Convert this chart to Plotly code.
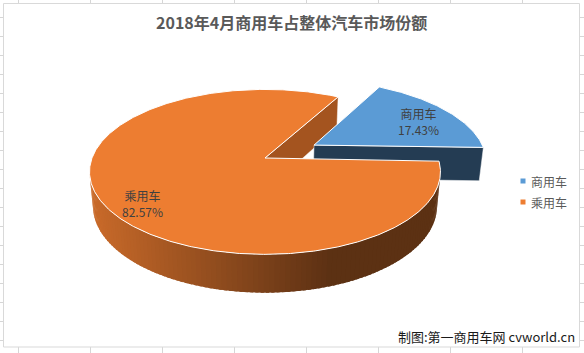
import numpy as np
import plotly.graph_objects as go

# ---------------- data ----------------
categories = ['商用车', '乘用车']
shares = [17.43, 82.57]
share_labels = ['17.43%', '82.57%']
slice_colors = ['#5B9BD5', '#ED7D31']
cut_colors = ['#243C53', '#A4541F']
title_text = '2018年4月商用车占整体汽车市场份额'
source_text = '制图:第一商用车网 cvworld.cn'

# ---------------- pseudo-3D pie geometry (style) ----------------
W, H_PX = 584, 353
CX, CY = 265.0, 158.0      # screen position of pie centre
R = 173.0                  # pie radius
TILT = np.radians(27.6)    # camera elevation
DIST = 912.0               # perspective distance
DEPTH = 39.0               # pie thickness
FIRST_ANGLE = 29.0         # first slice start angle (clockwise from back)
EXPLODE = [58.0, 0.0]
LABEL_R = 0.78
LABEL_SHIFT = [(0, -4), (3, -12)]
FONT = 'Microsoft YaHei, Noto Sans CJK SC, Noto Sans, sans-serif'

sa, ca = np.sin(TILT), np.cos(TILT)


def project(X, Z, h):
    X = np.asarray(X, float); Z = np.asarray(Z, float); h = np.asarray(h, float)
    yc = h * ca + Z * sa
    dp = Z * ca - h * sa
    f = DIST / (DIST + dp)
    return CX + X * f, CY - yc * f


def depth(X, Z, h):
    return Z * ca - h * sa


def facing(nx, nz, px, pz):
    return nx * (0 - px) + nz * (-DIST * ca - pz) > 0


def hex2rgb(c):
    c = c.lstrip('#')
    return tuple(int(c[i:i + 2], 16) for i in (0, 2, 4))


def shade(c, f):
    r, g, b = hex2rgb(c)
    return 'rgb(%d,%d,%d)' % (round(r * f), round(g * f), round(b * f))


cut_faces = []
slices = []
total = sum(shares)
start = FIRST_ANGLE
for i, v in enumerate(shares):
    span = 360.0 * v / total
    a0, a1 = start, start + span
    start = a1
    mid = np.radians((a0 + a1) / 2)
    ox, oz = EXPLODE[i] * np.sin(mid), EXPLODE[i] * np.cos(mid)

    # top face
    th = np.radians(np.linspace(a0, a1, max(10, int(span * 2))))
    X = np.concatenate([[ox], ox + R * np.sin(th), [ox]])
    Z = np.concatenate([[oz], oz + R * np.cos(th), [oz]])
    tx, ty = project(X, Z, np.zeros_like(X))
    half = np.radians(span / 2)
    cr = 2 / 3 * R * np.sin(half) / half
    top_depth = depth(ox + cr * np.sin(mid), oz + cr * np.cos(mid), 0.0)

    # cut faces
    for ang, sgn in ((a0, -1), (a1, 1)):
        ar = np.radians(ang)
        nx, nz = sgn * np.cos(ar), -sgn * np.sin(ar)
        px, pz = ox + R / 2 * np.sin(ar), oz + R / 2 * np.cos(ar)
        if facing(nx, nz, px, pz):
            Xc = [ox, ox + R * np.sin(ar), ox + R * np.sin(ar), ox, ox]
            Zc = [oz, oz + R * np.cos(ar), oz + R * np.cos(ar), oz, oz]
            hc = [0, 0, -DEPTH, -DEPTH, 0]
            cx_, cy_ = project(Xc, Zc, hc)
            cut_faces.append((depth(px, pz, -DEPTH / 2), cx_, cy_, cut_colors[i]))

    # side strips (slightly overlapping to avoid seams)
    strips = []
    nseg = max(4, int(span / 1.5))
    edges = np.linspace(a0, a1, nseg + 1)
    step = edges[1] - edges[0]
    for k in range(nseg):
        t0, t1 = edges[k], edges[k + 1]
        tm = np.radians((t0 + t1) / 2)
        px, pz = ox + R * np.sin(tm), oz + R * np.cos(tm)
        if not facing(np.sin(tm), np.cos(tm), px, pz):
            continue
        t1e = min(t1 + 0.6 * step, a1)
        tt = np.radians(np.linspace(t0, t1e, 5))
        Xs = np.concatenate([ox + R * np.sin(tt), ox + R * np.sin(tt[::-1])])
        Zs = np.concatenate([oz + R * np.cos(tt), oz + R * np.cos(tt[::-1])])
        hs = np.concatenate([np.zeros(5), -DEPTH * np.ones(5)])
        sx, sy = project(Xs, Zs, hs)
        mx, _ = project(px, pz, 0.0)
        t = float(np.clip((mx - 90) / (330 - 90), 0, 1))
        fshade = 0.85 + (0.39 - 0.85) * t
        strips.append((sx, sy, shade(slice_colors[i], fshade)))

    # label position
    lx, ly = project(ox + LABEL_R * R * np.sin(mid), oz + LABEL_R * R * np.cos(mid), 0.0)
    slices.append(dict(top=(tx, ty), depth=top_depth, strips=strips,
                       color=slice_colors[i], label=(float(lx), float(ly))))

fig = go.Figure()


def add_poly(x, y, fill, line_color=None, lw=0.0):
    fig.add_trace(go.Scatter(
        x=list(x), y=list(y), mode='lines', fill='toself', fillcolor=fill,
        line=dict(color=line_color or fill, width=lw),
        hoverinfo='skip', showlegend=False))


for d, x, y, c in sorted(cut_faces, key=lambda t: -t[0]):
    add_poly(x, y, c, 'rgba(255,255,255,0.6)', 0.8)

for s in sorted(slices, key=lambda s: -s['depth']):
    for sx, sy, c in s['strips']:
        add_poly(sx, sy, c, c, 0)
    add_poly(s['top'][0], s['top'][1], s['color'], 'white', 1.0)

annotations = []
for i, s in enumerate(slices):
    annotations.append(dict(
        x=s['label'][0], y=s['label'][1], xref='x', yref='y', showarrow=False,
        text=f'{categories[i]}<br>{share_labels[i]}',
        xshift=LABEL_SHIFT[i][0], yshift=LABEL_SHIFT[i][1],
        font=dict(family=FONT, size=12, color='#404040'), align='center'))

# legend (manual, Excel style)
legend_y = [181, 202]
shapes = []
for gx in np.arange(18.5, W, 72):
    shapes.append(dict(type='line', x0=gx, x1=gx, y0=0, y1=H_PX, xref='x', yref='y',
                       line=dict(color='#D6D6D6', width=1), layer='below'))
for gy in np.arange(17.5, H_PX, 19):
    shapes.append(dict(type='line', x0=0, x1=W, y0=gy, y1=gy, xref='x', yref='y',
                       line=dict(color='#D6D6D6', width=1), layer='below'))
shapes.append(dict(type='rect', x0=3.5, x1=579.5, y0=3.5, y1=347, xref='x', yref='y',
                   fillcolor='white', line=dict(color='#D9D9D9', width=1), layer='below'))
for i, c in enumerate(categories):
    shapes.append(dict(type='rect', x0=520.5, x1=525.5, y0=legend_y[i] - 2.5, y1=legend_y[i] + 2.5,
                       xref='x', yref='y', fillcolor=slice_colors[i], line=dict(width=0)))
    annotations.append(dict(x=529, y=legend_y[i], xref='x', yref='y', showarrow=False,
                            xanchor='left', yanchor='middle', text=c,
                            font=dict(family=FONT, size=12, color='#595959')))

annotations.append(dict(x=577, y=336, xref='x', yref='y', showarrow=False,
                        xanchor='right', yanchor='middle', text=source_text,
                        font=dict(family=FONT, size=13, color='#1A1A1A')))
annotations.append(dict(x=291, y=22, xref='x', yref='y', showarrow=False,
                        xanchor='center', yanchor='middle', text=f'<b>{title_text}</b>',
                        font=dict(family=FONT, size=16, color='#595959')))

fig.update_layout(
    width=W, height=H_PX, margin=dict(l=0, r=0, t=0, b=0),
    paper_bgcolor='white', plot_bgcolor='white', showlegend=False,
    xaxis=dict(range=[0, W], visible=False, fixedrange=True),
    yaxis=dict(range=[H_PX, 0], visible=False, fixedrange=True),
    shapes=shapes, annotations=annotations,
)
fig.write_html('out.html')
